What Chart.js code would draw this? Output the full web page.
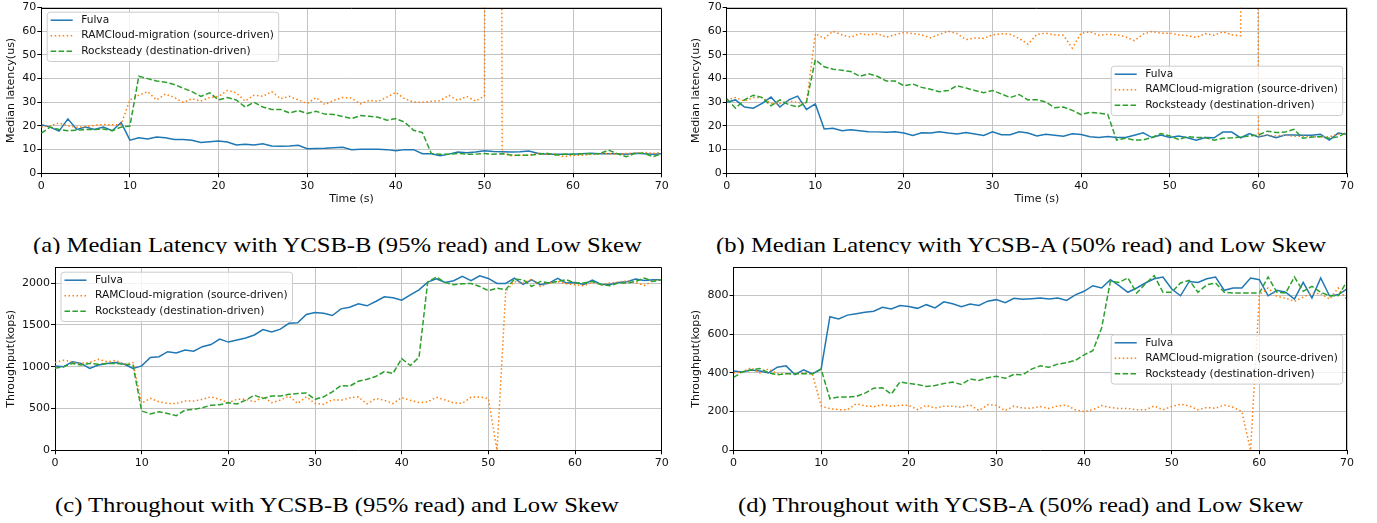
<!DOCTYPE html>
<html>
<head>
<meta charset="utf-8">
<script src="https://cdn.jsdelivr.net/npm/chart.js@4.4.1/dist/chart.umd.min.js"></script>
<style>
  html, body { margin: 0; padding: 0; background: #fff; }
  #fig { position: relative; width: 1377px; height: 523px; overflow: hidden; background: #fff; }
  #fig canvas { position: absolute; }
  .cap { position: absolute; overflow: hidden; }
  .cap span { position: absolute; white-space: nowrap; font-family: "Liberation Serif", "Times New Roman", serif; font-size: 22px; line-height: 22px; color: #000; transform: scaleX(1.12); transform-origin: 0 0; }
</style>
</head>
<body>
<div id="fig">
  <canvas id="chartA" width="680" height="212" style="left:0;top:0"></canvas>
  <canvas id="chartB" width="692" height="212" style="left:685px;top:0"></canvas>
  <canvas id="chartC" width="680" height="215" style="left:0;top:258px"></canvas>
  <canvas id="chartD" width="692" height="215" style="left:685px;top:258px"></canvas>

  <div class="cap" style="left:0;top:228px;width:685px;height:25.5px"><span style="left:32.7px;top:5.6px">(a) Median Latency with YCSB-B (95% read) and Low Skew</span></div>
  <div class="cap" style="left:685px;top:228px;width:692px;height:25.5px"><span style="left:31px;top:5.6px">(b) Median Latency with YCSB-A (50% read) and Low Skew</span></div>
  <div class="cap" style="left:0;top:485px;width:685px;height:38px"><span style="left:55px;top:9px">(c) Throughout with YCSB-B (95% read) and Low Skew</span></div>
  <div class="cap" style="left:685px;top:485px;width:692px;height:38px"><span style="left:53px;top:9px">(d) Throughout with YCSB-A (50% read) and Low Skew</span></div>
</div>

<script>
// ── Datos ───────────────────────────────────────────
// Tiempo (s), un punto por segundo
const timeS = [0, 1, 2, 3, 4, 5, 6, 7, 8, 9, 10, 11, 12, 13, 14, 15, 16, 17, 18, 19,
  20, 21, 22, 23, 24, 25, 26, 27, 28, 29, 30, 31, 32, 33, 34, 35, 36, 37, 38, 39,
  40, 41, 42, 43, 44, 45, 46, 47, 48, 49, 50, 51, 52, 53, 54, 55, 56, 57, 58, 59,
  60, 61, 62, 63, 64, 65, 66, 67, 68, 69, 70];

const seriesNames = ['Fulva', 'RAMCloud-migration (source-driven)', 'Rocksteady (destination-driven)'];

const xTicks = [0, 10, 20, 30, 40, 50, 60, 70];
const latencyTicks = [0, 10, 20, 30, 40, 50, 60, 70];
const tputBTicks = [0, 500, 1000, 1500, 2000];
const tputATicks = [0, 200, 400, 600, 800];
const latencyMax = 70;
const tputBMax = 2190;
const tputAMax = 945;

// (a) latencia mediana, YCSB-B
const latB_fulva = [20.5, 19.5, 17.8, 23, 18.5, 19.5, 18.5, 19.5, 18, 21.5,
  14, 15, 14.5, 15.3, 15, 14.3, 14.3, 14, 13, 13.3,
  13.6, 13.2, 12, 12.3, 12, 12.5, 11.5, 11.4, 11.5, 11.8,
  10.4, 10.5, 10.6, 10.8, 11, 10, 10.2, 10.2, 10.2, 10,
  9.5, 10, 10, 8.3, 8.3, 7.4, 8.1, 9, 8.7, 9,
  9.5, 9.2, 9.1, 9, 9.1, 9.4, 8.5, 8.1, 8.1, 8.1,
  8.1, 8.3, 8.5, 8.3, 8.3, 8.3, 8, 8.5, 8.3, 8.1, 8.3];
const latB_ram = [19.6, 20, 21.3, 20, 19.5, 19.7, 20.3, 20.6, 20.5, 20.6,
  31, 33, 34.5, 31, 33.5, 32, 30, 31.5, 30.5, 32,
  32.5, 35, 34, 30.5, 33, 32.5, 34.5, 31.5, 32.5, 31,
  29.5, 32, 29, 30.8, 32, 31.8, 29.3, 30.8, 30.4, 32.2,
  34.2, 31.5, 30.1, 30, 30.4, 30.7, 32.9, 30.8, 32.5, 30.5,
  32.6, 1500, 9, 7.4, 7.6, 7.6, 8.4, 8.1, 8, 7,
  7.6, 7.6, 8, 8.3, 8.4, 8, 8.4, 8.5, 8.8, 8.4, 8.8];
const latB_rock = [17, 19.5, 18.5, 18, 18.2, 18.5, 18.5, 18.7, 18, 19.5,
  20, 41, 40, 39, 38.5, 37.5, 36, 34.5, 32.5, 34,
  31, 32, 31, 28, 30, 28, 27, 27, 25.5, 26.5,
  25.3, 26.2, 25, 24.8, 24, 23.1, 24.4, 24.1, 23.7, 22.4,
  23.1, 21.6, 18.2, 17.2, 8.4, 8, 8.1, 8.4, 8.1, 8.1,
  8.4, 8, 8.3, 7.7, 7.6, 7.6, 8, 8.5, 7.7, 8,
  8, 8.3, 8.3, 8.3, 9.8, 8.3, 7, 8.4, 8.5, 7, 8.3];

// (b) latencia mediana, YCSB-A
const latA_fulva = [30, 31, 28, 27.5, 29.5, 32.2, 28, 31, 32.6, 27,
  29.3, 18.7, 19, 18, 18.4, 18, 17.6, 17.5, 17.3, 17.5,
  17, 16, 17.1, 17, 17.5, 17, 16.6, 17.2, 16.6, 16,
  17.5, 16.3, 16.3, 17.5, 17, 15.8, 16.5, 16.1, 15.7, 16.7,
  16.4, 15.4, 15.1, 15.5, 15.1, 15.1, 16.1, 17.1, 15.1, 16.2,
  15.1, 15.8, 15, 14, 15.1, 15, 17.4, 17.4, 15, 16.8,
  15.3, 16.2, 15, 16.2, 16.2, 16.1, 16.1, 16.5, 14, 17, 16.5];
const latA_ram = [31, 32, 30.5, 32, 32, 29.5, 29.5, 30.5, 30, 29.5,
  59, 57, 60, 58.5, 57.5, 59, 58.5, 59, 57.5, 58.5,
  59.5, 59, 58.5, 57.2, 58.7, 60, 59, 56.5, 57.2, 57,
  58.5, 59, 58.7, 57, 54.5, 58.7, 59.2, 58.5, 58.3, 52.9,
  59.2, 59.8, 58.3, 58.7, 58.5, 57.7, 56, 58.8, 59.9, 59.2,
  59.2, 58.5, 58.1, 57.4, 59, 58.3, 59.8, 58.5, 58.1, 1500,
  15.7, 16.1, 15.8, 16.1, 15.7, 15.7, 15.4, 15.4, 15.4, 16.5, 16.8];
const latA_rock = [31.5, 27.5, 31, 33, 32, 28.5, 31, 29, 28, 30,
  48, 45, 44, 43.5, 43, 41, 42, 41, 39, 39,
  37, 37.7, 36.3, 35.5, 34.5, 35, 37, 36, 35, 34,
  35, 33.5, 32, 33.3, 31, 31.1, 30.1, 27.7, 28, 26.6,
  24.8, 25.8, 25.4, 24.9, 14, 14.8, 14, 14.1, 15.1, 16.8,
  15.8, 14.3, 15.5, 15.1, 15.1, 14, 14.8, 15, 15.3, 15.8,
  16.2, 17.8, 17.2, 17.4, 18.6, 14.8, 15.3, 15.5, 14.8, 15.4, 17.4];

// (c) throughput (kops), YCSB-B
const tputB_fulva = [1010, 1000, 1060, 1040, 980, 1020, 1040, 1050, 1030, 980,
  1010, 1110, 1120, 1180, 1165, 1200, 1185, 1240, 1265, 1330,
  1295, 1320, 1345, 1380, 1445, 1415, 1450, 1520, 1525, 1625,
  1650, 1640, 1613, 1693, 1713, 1753, 1729, 1781, 1837, 1825,
  1797, 1861, 1921, 2013, 2053, 2009, 2029, 2081, 2029, 2089,
  2057, 1997, 1997, 2061, 1985, 2041, 1981, 2001, 2057, 2001,
  2009, 1985, 2037, 1985, 1985, 2009, 2017, 2049, 2033, 2041, 2041];
const tputB_ram = [1050, 1078, 1060, 1040, 1050, 1090, 1060, 1075, 1030, 1050,
  563, 623, 580, 560, 560, 590, 590, 610, 640, 610,
  570, 610, 610, 580, 640, 570, 600, 650, 560, 640,
  560, 550, 605, 599, 627, 639, 555, 619, 599, 559,
  631, 599, 571, 579, 635, 603, 567, 563, 635, 639,
  619, 0, 1901, 2021, 2001, 2049, 1961, 2001, 2021, 1993,
  1981, 1969, 2009, 1981, 2001, 2013, 2029, 2009, 1973, 2029, 2041];
const tputB_rock = [982, 1000, 1040, 1020, 1040, 1030, 1040, 1040, 1030, 1020,
  471, 435, 460, 440, 415, 480, 490, 510, 540, 545,
  570, 555, 600, 660, 620, 650, 650, 670, 680, 685,
  610, 640, 700, 775, 767, 827, 851, 883, 943, 919,
  1098, 1014, 1114, 2013, 2073, 2009, 1981, 1993, 1997, 1961,
  1909, 1941, 1921, 2049, 2041, 1961, 2021, 2001, 2021, 2041,
  2001, 2001, 2021, 1985, 1969, 2001, 2001, 2021, 2061, 2021, 2041];

// (d) throughput (kops), YCSB-A
const tputA_fulva = [410, 405, 415, 410, 400, 429, 436, 391, 415, 395,
  420, 690, 678, 698, 705, 713, 718, 738, 730, 748,
  743, 733, 752, 735, 767, 757, 742, 755, 748, 770,
  778, 762, 785, 780, 783, 786, 781, 786, 774, 803,
  821, 850, 838, 881, 850, 816, 838, 864, 886, 895,
  833, 798, 872, 867, 886, 895, 826, 838, 838, 890,
  881, 798, 826, 816, 781, 867, 786, 890, 798, 803, 834];
const tputA_ram = [400, 405, 426, 400, 420, 395, 395, 395, 400, 395,
  229, 215, 210, 210, 240, 230, 225, 235, 228, 232,
  232, 210, 232, 218, 228, 228, 222, 235, 205, 235,
  232, 205, 228, 218, 217, 226, 216, 229, 233, 209,
  200, 209, 231, 221, 216, 216, 209, 209, 229, 209,
  226, 238, 229, 209, 221, 217, 234, 222, 200, 0,
  803, 838, 795, 786, 769, 791, 812, 809, 781, 838, 776];
const tputA_rock = [376, 405, 415, 422, 400, 390, 395, 395, 395, 395,
  419, 266, 275, 275, 278, 295, 321, 323, 290, 353,
  345, 340, 330, 335, 345, 352, 340, 368, 360, 375,
  382, 372, 392, 390, 419, 436, 429, 445, 453, 464,
  493, 514, 631, 872, 867, 890, 812, 860, 902, 816,
  816, 864, 878, 816, 855, 864, 816, 812, 812, 812,
  812, 895, 816, 812, 895, 821, 847, 816, 798, 798, 872];

// ── Estilo ──────────────────────────────────────────
const tickFont = { family: 'DejaVu Sans', size: 11 };
const gridColor = '#c4c4c4';
const styles = [
  { color: '#1f77b4', dash: [], order: 2 },
  { color: '#ff7f0e', dash: [1.5, 2.5], order: 1 },
  { color: '#2ca02c', dash: [5.5, 2.4], order: 0 }
];

// marco negro arriba y a la derecha (estilo matplotlib)
const frame = {
  id: 'frame',
  afterDatasetsDraw(chart) {
    const { ctx, chartArea: a } = chart;
    const t = Math.round(a.top) + 0.5, r = Math.round(a.right) - 0.5;
    ctx.save();
    ctx.strokeStyle = '#000';
    ctx.lineWidth = 1;
    ctx.beginPath();
    ctx.moveTo(Math.round(a.left), t);
    ctx.lineTo(r, t);
    ctx.lineTo(r, Math.round(a.bottom));
    ctx.stroke();
    ctx.restore();
  }
};

// leyenda dentro del área, como la de matplotlib
const boxLegend = {
  id: 'boxLegend',
  afterDraw(chart, args, o) {
    const ctx = chart.ctx;
    ctx.save();
    ctx.beginPath();
    ctx.roundRect(o.x + 0.5, o.y + 0.5, o.w, o.h, 3);
    ctx.fillStyle = 'rgba(255,255,255,0.8)';
    ctx.fill();
    ctx.strokeStyle = '#cccccc';
    ctx.lineWidth = 1;
    ctx.stroke();
    ctx.font = '10.6px "DejaVu Sans"';
    ctx.textBaseline = 'middle';
    chart.data.datasets.forEach((d, i) => {
      const y = o.y + o.row0 + i * o.rowStep;
      ctx.strokeStyle = d.borderColor;
      ctx.lineWidth = 1.5;
      ctx.setLineDash(d.borderDash);
      ctx.beginPath();
      ctx.moveTo(o.x + 4, y);
      ctx.lineTo(o.x + 26, y);
      ctx.stroke();
      ctx.setLineDash([]);
      ctx.fillStyle = '#111';
      ctx.fillText(d.label, o.x + 34.5, y);
    });
    ctx.restore();
  }
};

function makePanel(id, cfg) {
  const datasets = cfg.series.map((vals, i) => ({
    label: seriesNames[i],
    data: vals.map((v, k) => ({ x: timeS[k], y: v })),
    borderColor: styles[i].color,
    borderDash: styles[i].dash,
    borderWidth: 1.5,
    pointRadius: 0,
    tension: 0,
    fill: false,
    order: styles[i].order
  }));

  return new Chart(document.getElementById(id), {
    type: 'line',
    data: { datasets },
    options: {
      responsive: false,
      animation: false,
      devicePixelRatio: 1,
      layout: { padding: cfg.pad },
      plugins: { legend: { display: false }, tooltip: { enabled: false }, boxLegend: cfg.legend },
      scales: {
        x: {
          type: 'linear', min: 0, max: 70,
          afterFit: s => { s.height = cfg.xh; },
          afterBuildTicks: s => { s.ticks = xTicks.map(v => ({ value: v })); },
          grid: { color: gridColor, lineWidth: 1, tickColor: '#000', tickLength: 4, tickWidth: 1 },
          border: { color: '#000', width: 1 },
          ticks: { color: '#111', font: tickFont, padding: 2, maxRotation: 0, autoSkip: false, callback: v => String(v) },
          title: cfg.xTitle
            ? { display: true, text: cfg.xTitle, color: '#111', font: tickFont, padding: { top: 0, bottom: cfg.xTitlePad } }
            : { display: false }
        },
        y: {
          min: 0, max: cfg.yMax,
          afterFit: s => { s.width = cfg.yw; },
          afterBuildTicks: s => { s.ticks = cfg.yTicks.map(v => ({ value: v })); },
          grid: { color: gridColor, lineWidth: 1, tickColor: '#000', tickLength: 4, tickWidth: 1 },
          border: { color: '#000', width: 1 },
          ticks: { color: '#111', font: tickFont, padding: 1, autoSkip: false, callback: v => String(v) },
          title: { display: true, text: cfg.yTitle, color: '#111', font: tickFont, padding: { top: 5, bottom: 0 } }
        }
      }
    },
    plugins: [frame, boxLegend]
  });
}

window.addEventListener('load', () => {
  const legendRows = { w: 231.5, h: 49.3, row0: 8.5, rowStep: 15.5 };

  makePanel('chartA', {
    series: [latB_fulva, latB_ram, latB_rock],
    yTicks: latencyTicks, yMax: latencyMax, yTitle: 'Median latency(us)',
    xTitle: 'Time (s)', xTitlePad: 6.1,
    pad: { left: 0, top: 6.7, right: 18.3, bottom: 0 }, yw: 41.3, xh: 38.7,
    legend: Object.assign({ x: 46.7, y: 11.7 }, legendRows)
  });

  makePanel('chartB', {
    series: [latA_fulva, latA_ram, latA_rock],
    yTicks: latencyTicks, yMax: latencyMax, yTitle: 'Median latency(us)',
    xTitle: 'Time (s)', xTitlePad: 6.1,
    pad: { left: 0, top: 6.7, right: 30, bottom: 0 }, yw: 41.7, xh: 38.7,
    legend: Object.assign({ x: 425.7, y: 65.7 }, legendRows)
  });

  makePanel('chartC', {
    series: [tputB_fulva, tputB_ram, tputB_rock],
    yTicks: tputBTicks, yMax: tputBMax, yTitle: 'Throughput(kops)',
    pad: { left: 0, top: 9.3, right: 18.3, bottom: 0 }, yw: 55, xh: 22.7,
    legend: Object.assign({ x: 60.5, y: 13.7 }, legendRows)
  });

  makePanel('chartD', {
    series: [tputA_fulva, tputA_ram, tputA_rock],
    yTicks: tputATicks, yMax: tputAMax, yTitle: 'Throughput(kops)',
    pad: { left: 0, top: 9.3, right: 30, bottom: 0 }, yw: 48.5, xh: 22.7,
    legend: Object.assign({ x: 425.7, y: 76.3 }, legendRows)
  });
});
</script>
</body>
</html>
